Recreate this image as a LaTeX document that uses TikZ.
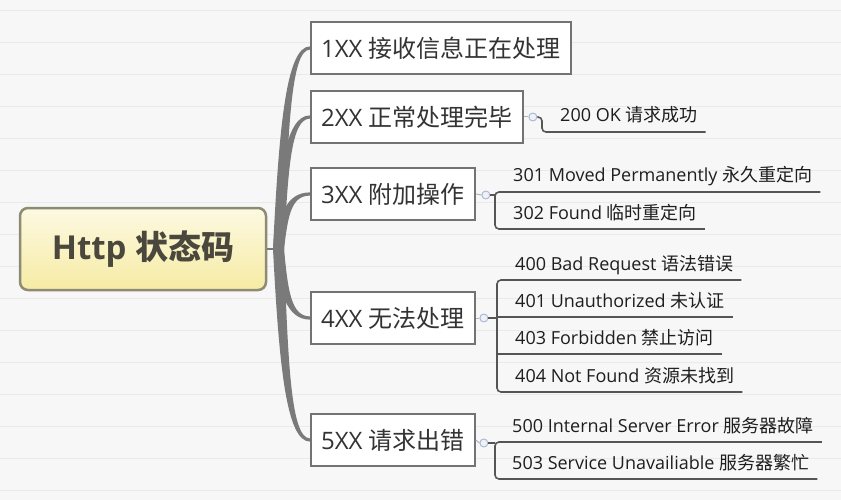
\documentclass[tikz,border=0pt]{standalone}
\usepackage{fontspec}
\setmainfont{Open Sans}
\newfontfamily\cjk{Noto Sans CJK SC}
\usetikzlibrary{calc}
\definecolor{bgc}{HTML}{F7F7F7}
\definecolor{gridc}{HTML}{EAEAEA}
\definecolor{boxc}{HTML}{737373}
\definecolor{txtone}{HTML}{333333}
\definecolor{txttwo}{HTML}{1E1E1E}
\definecolor{linec}{HTML}{555555}
\definecolor{trunkc}{HTML}{7A7A7A}
\definecolor{knobc}{HTML}{A7B4CF}
\definecolor{knobf}{HTML}{EEF1F7}
\definecolor{roottop}{HTML}{FDF9E2}
\definecolor{rootbot}{HTML}{F6EBA4}
\definecolor{rootdraw}{HTML}{8E8B74}
\definecolor{roottxt}{HTML}{4A483C}
\begin{document}
\begin{tikzpicture}[x=1pt,y=-1pt,
  rootbox/.style={draw=rootdraw, line width=2.5pt, rounded corners=8pt, top color=roottop, bottom color=rootbot,
    minimum width=246pt, minimum height=82pt, font=\fontsize{33}{38}\selectfont\bfseries, text=roottxt},
  lvlone/.style={draw=boxc, line width=2.2pt, fill=white, minimum height=52pt, inner xsep=10pt,
    font=\fontsize{24}{28}\selectfont, text=txtone, anchor=west},
  leaf/.style={font=\fontsize{18}{21}\selectfont, text=txttwo, anchor=base west, inner sep=0pt},
  uline/.style={draw=linec, line width=1.6pt, rounded corners=4pt},
  knob/.style={circle, draw=knobc, fill=knobf, line width=0.9pt, minimum size=8pt, inner sep=0pt},
  knobline/.style={draw=knobc, line width=1pt}]
\useasboundingbox (0,0) rectangle (841,500);
\fill[bgc] (0,0) rectangle (841,500);
\foreach \gy in {10,42,...,500} \draw[gridc, line width=0.8pt] (0,\gy) -- (841,\gy);

% root
\node[rootbox] (root) at (143,249) {Http {\cjk 状态码}};
\coordinate (hub) at (278,249);

% level one boxes
\node[lvlone] (b1) at (310,48)  {1XX {\cjk 接收信息正在处理}};
\node[lvlone] (b2) at (310,117) {2XX {\cjk 正常处理完毕}};
\node[lvlone] (b3) at (310,194) {3XX {\cjk 附加操作}};
\node[lvlone] (b4) at (310,318) {4XX {\cjk 无法处理}};
\node[lvlone] (b5) at (310,440) {5XX {\cjk 请求出错}};

% trunk branches
\draw[trunkc, line width=2pt] (root.east) -- (hub);
\foreach \n/\Y in {b1/48,b2/117,b3/194,b4/318,b5/440}{
  \pgfmathsetmacro\M{249-0.6*(249-\Y)}
  \pgfmathsetmacro\s{(\Y<249)?1.6:-1.6}
  \fill[trunkc] ($(hub)+(-5,0)$) .. controls (279,\M) and (286,\Y-\s) .. ([yshift=\s pt]\n.west)
     -- ([yshift=-\s pt]\n.west) .. controls (291,\Y+\s) and (288,\M) .. ($(hub)+(6,0)$) -- cycle;
}
% redraw boxes over branch ends
\node[lvlone] at (310,48)  {1XX {\cjk 接收信息正在处理}};
\node[lvlone] at (310,117) {2XX {\cjk 正常处理完毕}};
\node[lvlone] at (310,194) {3XX {\cjk 附加操作}};
\node[lvlone] at (310,318) {4XX {\cjk 无法处理}};
\node[lvlone] at (310,440) {5XX {\cjk 请求出错}};

% knobs
\node[knob] (k2) at ($(b2.east)+(9,0)$) {};
\node[knob] (k3) at ($(b3.east)+(10,1)$) {};
\node[knob] (k4) at ($(b4.east)+(8,0)$) {};
\node[knob] (k5) at ($(b5.east)+(8,3)$) {};
\foreach \b/\k in {b2/k2,b3/k3,b4/k4,b5/k5} \draw[knobline] (\b.east) -- (\k.west);

% leaves
\node[leaf] (l200) at (560,122) {200 OK {\cjk 请求成功}};
\node[leaf] (l301) at (513,182) {301 Moved Permanently {\cjk 永久重定向}};
\node[leaf] (l302) at (513,219) {302 Found {\cjk 临时重定向}};
\node[leaf] (l400) at (515,270) {400 Bad Request {\cjk 语法错误}};
\node[leaf] (l401) at (515,307) {401 Unauthorized {\cjk 未认证}};
\node[leaf] (l403) at (515,344) {403 Forbidden {\cjk 禁止访问}};
\node[leaf] (l404) at (515,382) {404 Not Found {\cjk 资源未找到}};
\node[leaf] (l500) at (512,432) {500 Internal Server Error {\cjk 服务器故障}};
\node[leaf] (l503) at (512,469) {503 Service Unavailiable {\cjk 服务器繁忙}};

\foreach \l in {l200,l301,l302,l400,l401,l403,l404,l500,l503}
  \coordinate (\l e) at ($(\l.base east)+(8,10)$);

% 2XX
\draw[uline] (k2.east) -- (542,117) -- (542,132) -- (l200e);
% 3XX
\draw[uline] (l301e) -- (495,192) -- (495,229) -- (l302e);
\draw[uline] (k3.east) -- (495,195);
% 4XX
\draw[uline] (l400e) -- (497,280) -- (497,392) -- (l404e);
\draw[uline] (497,317) -- (l401e);
\draw[uline] (497,354) -- (l403e);
\draw[uline] (k4.east) -- (497,318);
% 5XX
\draw[uline] (l500e) -- (495,442) -- (495,479) -- (l503e);
\draw[uline] (k5.east) -- (495,443);
\end{tikzpicture}
\end{document}
